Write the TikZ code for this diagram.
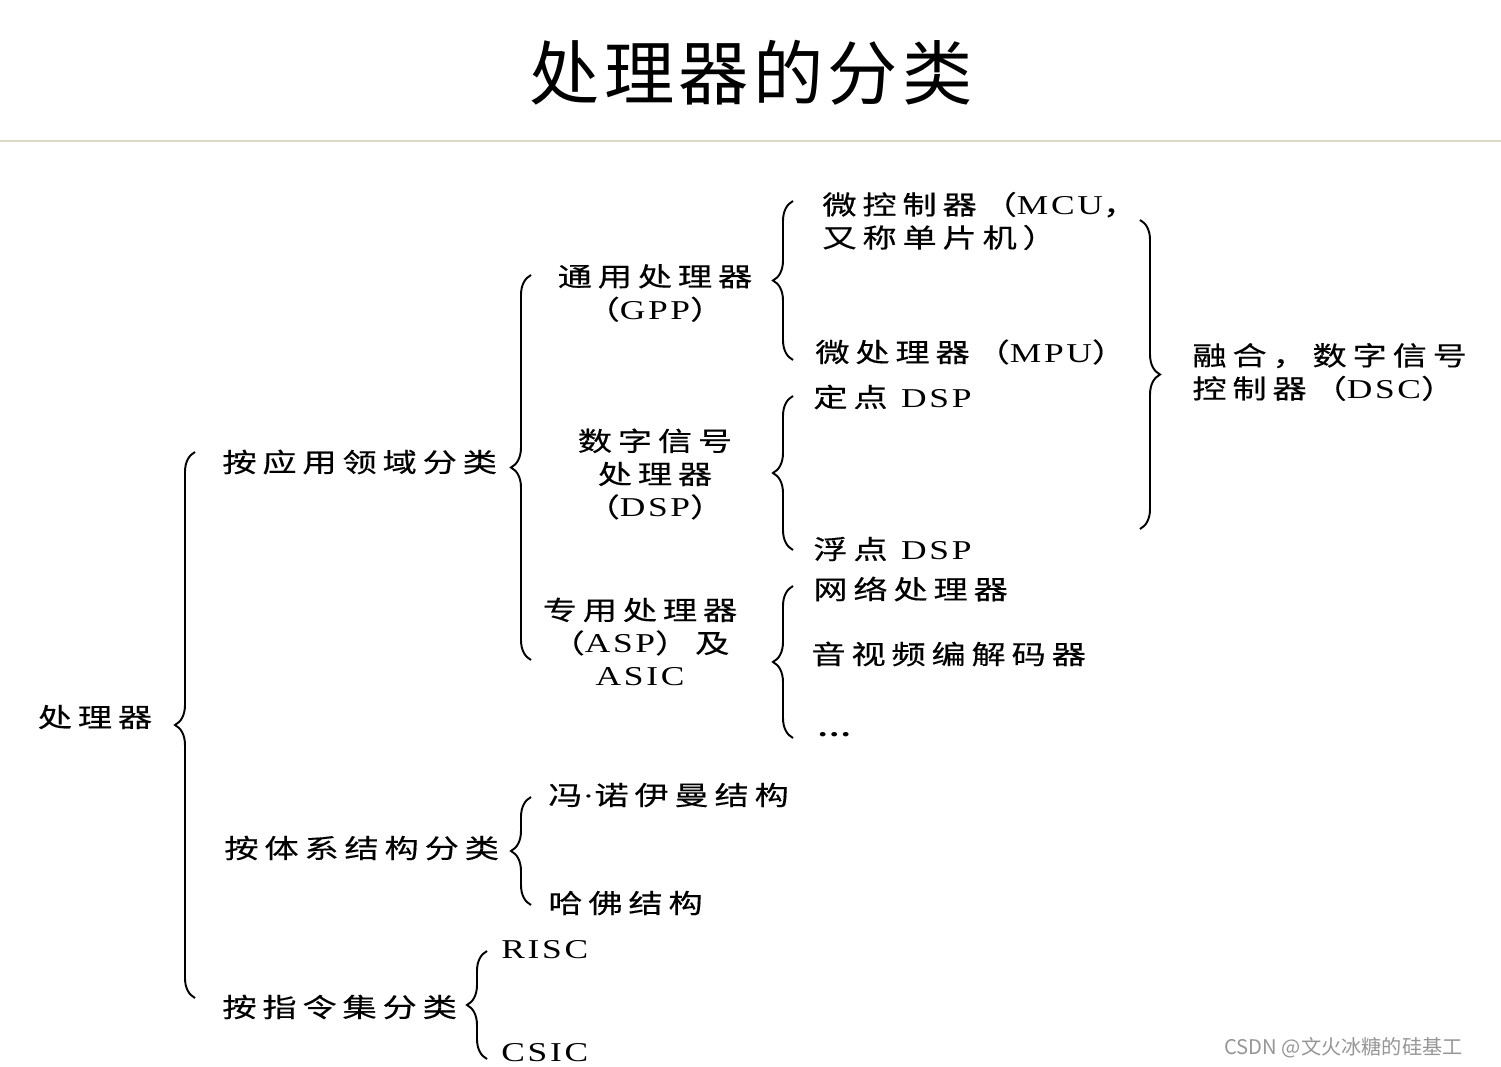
\documentclass[tikz,border=0pt]{standalone}
\usepackage{fontspec}
\usepackage{xcolor}
\usepackage{tikz}
\usetikzlibrary{
  positioning,
  decorations.pathreplacing
}
\setmainfont{Liberation Serif}
\newfontfamily\cjk[FakeStretch=1.3,LetterSpace=22,FakeBold=0.4]{Noto Sans CJK SC}
\newfontfamily\enfont[FakeStretch=1.3,LetterSpace=10]{Liberation Serif}
\newfontfamily\titlefont[LetterSpace=6]{Noto Sans CJK SC}
\newfontfamily\markfont{Noto Sans CJK SC}
\newcommand{\en}[1]{{\enfont\fontsize{15.5}{18.8}\selectfont #1}}
\definecolor{RuleBeige}{RGB}{221, 217, 196}
\definecolor{MarkGray}{RGB}{150, 150, 150}

\begin{document}
\begin{tikzpicture}[x=0.02cm, y=-0.02cm,
    item/.style={inner sep=0pt, font=\cjk\fontsize{15}{18.8}\selectfont},
    leaf/.style={item, anchor=west, align=left},
    group/.style={item, align=center},
    curly/.style={decorate, decoration={brace, amplitude=11.4pt}, line width=1.1pt},
  ]
  \useasboundingbox (0,0) rectangle (1501,1067);

  % title and rule
  \node[inner sep=0pt, font=\titlefont\fontsize{40}{40}\selectfont] (title) at (751,73) {处理器的分类};
  \draw[RuleBeige, line width=1.4pt] (0,141) -- (1501,141);

  % first level
  \node[item] (root) at (95,717) {处理器};
  \node[leaf] (byApp) at (222,462) {按应用领域分类};
  \node[leaf] (byArch) at (224,848) {按体系结构分类};
  \node[leaf] (byIsa) at (222,1007) {按指令集分类};

  % by application
  \node[group] (gpp) at (655,293) {通用处理器\\（\en{GPP}）};
  \node[group] (dsp) at (655,474) {数字信号\\处理器\\（\en{DSP}）};
  \node[group] (asp) at (640,642) {专用处理器\\（\en{ASP}）及\\\en{ASIC}};

  \node[leaf] (mcu) at (822,221) {微控制器（\en{MCU}，\\又称单片机）};
  \node[leaf] (mpu) at (815,352) {微处理器（\en{MPU}）};
  \node[leaf] (fixedDsp) at (813,397) {定点 \en{DSP}};
  \node[leaf] (floatDsp) at (813,549) {浮点 \en{DSP}};
  \node[leaf] (netProc) at (813,589) {网络处理器};
  \node[leaf] (codec) at (811,654) {音视频编解码器};
  \node[leaf] (more) at (818,735) {\en{\textbf{...}}};
  \node[leaf] (dsc) at (1192,372) {融合，数字信号\\控制器（\en{DSC}）};

  % by architecture / instruction set
  \node[leaf] (vonNeumann) at (548,795) {冯\en{·}诺伊曼结构};
  \node[leaf] (harvard) at (548,903) {哈佛结构};
  \node[leaf] (risc) at (501,950) {\en{RISC}};
  \node[leaf] (csic) at (501,1053) {\en{CSIC}};

  % brace ends
  \coordinate (rootTop) at (195,452);
  \coordinate (rootBot) at (195,998);
  \coordinate (appTop) at (531,275);
  \coordinate (appBot) at (531,660);
  \coordinate (gppTop) at (793,201);
  \coordinate (gppBot) at (793,360);
  \coordinate (dspTop) at (793,396);
  \coordinate (dspBot) at (793,550);
  \coordinate (aspTop) at (793,586);
  \coordinate (aspBot) at (793,738);
  \coordinate (dscTop) at (1140,220);
  \coordinate (dscBot) at (1140,529);
  \coordinate (archTop) at (531,797);
  \coordinate (archBot) at (531,905);
  \coordinate (isaTop) at (487,951);
  \coordinate (isaBot) at (487,1059);

  \draw[curly] (rootBot) -- (rootTop);
  \draw[curly] (appBot) -- (appTop);
  \draw[curly] (gppBot) -- (gppTop);
  \draw[curly] (dspBot) -- (dspTop);
  \draw[curly] (aspBot) -- (aspTop);
  \draw[curly] (dscTop) -- (dscBot);
  \draw[curly] (archBot) -- (archTop);
  \draw[curly] (isaBot) -- (isaTop);

  % watermark
  \node[anchor=east, inner sep=0pt, text=MarkGray, font=\markfont\fontsize{11.5}{12}\selectfont] (mark) at (1463,1048) {CSDN @文火冰糖的硅基工};
\end{tikzpicture}
\end{document}
